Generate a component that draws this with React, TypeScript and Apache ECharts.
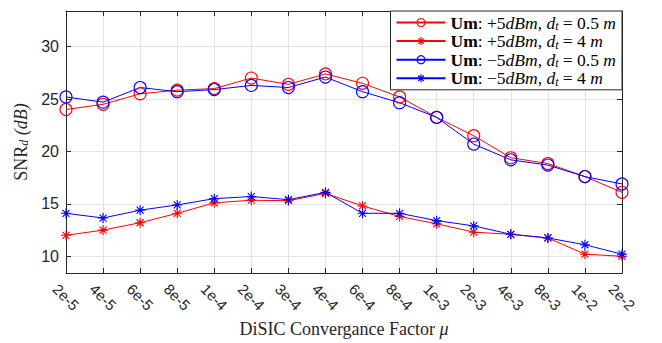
import React, { useEffect, useRef } from "react";
import * as echarts from "echarts";

const categories = ["2e-5","4e-5","6e-5","8e-5","1e-4","2e-4","3e-4","4e-4","6e-4","8e-4","1e-3","2e-3","4e-3","8e-3","1e-2","2e-2"];
const plus5Near = [24.0, 24.5, 25.5, 25.85, 26.0, 27.0, 26.4, 27.4, 26.5, 25.2, 23.25, 21.5, 19.4, 18.85, 17.6, 16.1];
const plus5Far = [12.0, 12.5, 13.2, 14.1, 15.1, 15.35, 15.3, 16.0, 14.8, 13.8, 13.1, 12.3, 12.1, 11.75, 10.2, 10.0];
const minus5Near = [25.2, 24.7, 26.1, 25.7, 25.9, 26.3, 26.1, 27.1, 25.7, 24.65, 23.25, 20.7, 19.2, 18.7, 17.6, 16.9];
const minus5Far = [14.1, 13.65, 14.4, 14.9, 15.5, 15.7, 15.4, 16.1, 14.1, 14.1, 13.4, 12.9, 12.1, 11.75, 11.1, 10.2];
const seriesNames = ["Um: +5dBm, dt = 0.5 m", "Um: +5dBm, dt = 4 m", "Um: -5dBm, dt = 0.5 m", "Um: -5dBm, dt = 4 m"];
const legendRich = [
  "{b|Um}{n|: +5}{i|dBm}{n|, }{i|d}{s|t}{n| = 0.5 }{i|m}",
  "{b|Um}{n|: +5}{i|dBm}{n|, }{i|d}{s|t}{n| = 4 }{i|m}",
  "{b|Um}{n|: \u22125}{i|dBm}{n|, }{i|d}{s|t}{n| = 0.5 }{i|m}",
  "{b|Um}{n|: \u22125}{i|dBm}{n|, }{i|d}{s|t}{n| = 4 }{i|m}",
];
const yMin = 8.4;
const yMax = 33.4;

const STAR = "path://M5,0L5,10M0,5L10,5M1.5,1.5L8.5,8.5M1.5,8.5L8.5,1.5";
const SERIF = "'Liberation Serif', 'Times New Roman', serif";
const SANS = "'Liberation Sans', Arial, Helvetica, sans-serif";
const AX = "#262626";

export default function App() {
  const ref = useRef<HTMLDivElement>(null);
  useEffect(() => {
    document.body.style.margin = "0";
    if (!ref.current) return;
    const chart = echarts.init(ref.current, undefined, { renderer: "svg" });
    const mk = (name: string, data: number[], color: string, star: boolean) => ({
      name,
      type: "line",
      data,
      symbol: star ? STAR : "circle",
      symbolSize: star ? 10 : 12,
      showSymbol: true,
      lineStyle: { color, width: 1 },
      itemStyle: star
        ? { color, borderColor: color, borderWidth: 1.1 }
        : { color: "rgba(0,0,0,0)", borderColor: color, borderWidth: 1.1 },
      color,
      emphasis: { disabled: true },
    });
    const yCommon = {
      type: "value",
      min: yMin,
      max: yMax,
      splitNumber: 5,
      axisLine: { show: true, lineStyle: { color: AX, width: 1 } },
      axisTick: { show: true, inside: true, length: 5, lineStyle: { color: AX } },
    };
    const FS = 17.5;
    chart.setOption({
      animation: false,
      backgroundColor: "#ffffff",
      grid: { left: 66, right: 40, top: 11, bottom: 69, containLabel: false },
      legend: {
        orient: "vertical",
        right: 40,
        top: 11,
        backgroundColor: "#ffffff",
        borderColor: AX,
        borderWidth: 1,
        borderRadius: 0,
        padding: [2, 6, 2, 5],
        itemGap: -0.4,
        itemWidth: 49,
        itemHeight: 10,
        align: "left",
        data: seriesNames.map((n, i) => ({
          name: n,
          itemStyle:
            i % 2 === 1
              ? { color: i < 2 ? "#ff0000" : "#0000ff", borderColor: i < 2 ? "#ff0000" : "#0000ff", borderWidth: 1.2 }
              : { color: "rgba(0,0,0,0)", borderColor: i < 2 ? "#ff0000" : "#0000ff", borderWidth: 1.1 },
        })),
        formatter: (name: string) => legendRich[seriesNames.indexOf(name)],
        textStyle: {
          fontFamily: SERIF,
          fontSize: FS,
          color: "#000",
          rich: {
            b: { fontFamily: SERIF, fontSize: FS, fontWeight: "bold", lineHeight: 17, color: "#000" },
            n: { fontFamily: SERIF, fontSize: FS, lineHeight: 17, color: "#000" },
            i: { fontFamily: SERIF, fontSize: FS, fontStyle: "italic", lineHeight: 17, color: "#000" },
            s: { fontFamily: SERIF, fontSize: 12, fontStyle: "italic", lineHeight: 17, padding: [7, 0, 0, 0], color: "#000" },
          },
        },
      },
      xAxis: [
        {
          type: "category",
          data: categories,
          boundaryGap: false,
          position: "bottom",
          axisLine: { show: true, lineStyle: { color: AX, width: 1 } },
          axisTick: { show: true, inside: true, length: 5, alignWithLabel: true, lineStyle: { color: AX } },
          axisLabel: {
            rotate: -45,
            align: "center",
            verticalAlign: "middle",
            margin: 24,
            fontFamily: SANS,
            fontSize: 15,
            color: AX,
            interval: 0,
          },
          splitLine: { show: true, lineStyle: { color: "#e3e3e3", width: 1 } },
          name: "DiSIC Convergance Factor {it|\u03bc}",
          nameLocation: "middle",
          nameGap: 42,
          nameTextStyle: {
            fontFamily: SERIF,
            fontSize: 18,
            color: AX,
            rich: { it: { fontFamily: SERIF, fontSize: 18, fontStyle: "italic", color: AX } },
          },
        },
        {
          type: "category",
          data: categories,
          boundaryGap: false,
          position: "top",
          axisLine: { show: true, lineStyle: { color: AX, width: 1 } },
          axisTick: { show: true, inside: true, length: 5, lineStyle: { color: AX } },
          axisLabel: { show: false },
          splitLine: { show: false },
        },
      ],
      yAxis: [
        {
          ...yCommon,
          position: "left",
          axisLabel: {
            fontFamily: SANS,
            fontSize: 16,
            color: AX,
            margin: 7,
            showMinLabel: false,
            showMaxLabel: false,
            formatter: (v: number) => (Math.abs(v % 5) < 1e-6 ? String(v) : ""),
          },
          splitLine: { show: true, lineStyle: { color: "#e3e3e3", width: 1 } },
          name: "SNR{sub|d} {it|(dB)}",
          nameLocation: "middle",
          nameGap: 32,
          nameRotate: 90,
          nameTextStyle: {
            fontFamily: SERIF,
            fontSize: 18,
            color: AX,
            rich: {
              sub: { fontFamily: SERIF, fontSize: 12, fontStyle: "italic", color: AX, padding: [7, 0, 0, 0], lineHeight: 18 },
              it: { fontFamily: SERIF, fontSize: 18, fontStyle: "italic", color: AX, lineHeight: 18 },
            },
          },
        },
        {
          ...yCommon,
          position: "right",
          axisLabel: { show: false },
          splitLine: { show: false },
        },
      ],
      series: [
        mk(seriesNames[0], plus5Near, "#ff0000", false),
        mk(seriesNames[1], plus5Far, "#ff0000", true),
        mk(seriesNames[2], minus5Near, "#0000ff", false),
        mk(seriesNames[3], minus5Far, "#0000ff", true),
      ],
    });
    return () => chart.dispose();
  }, []);
  return <div ref={ref} style={{ width: 662, height: 343 }} />;
}
